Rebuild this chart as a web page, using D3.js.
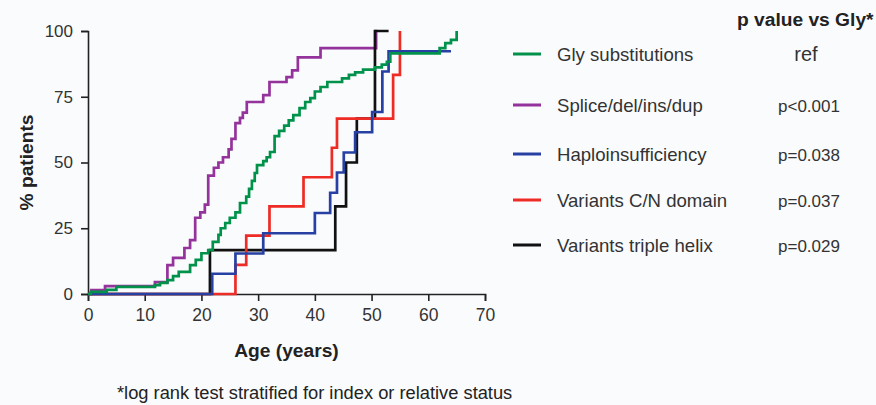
<!DOCTYPE html>
<html>
<head>
<meta charset="utf-8">
<script src="https://cdn.jsdelivr.net/npm/d3@7"></script>
<style>
  html, body { margin: 0; padding: 0; background: #fafbfd; }
  svg { display: block; font-family: "Liberation Sans", Arial, Helvetica, sans-serif; }
</style>
</head>
<body>
<svg id="chart" width="876" height="405"></svg>
<script>
// ---- data ----
const seriesNames = ["Gly substitutions", "Splice/del/ins/dup", "Haploinsufficiency", "Variants C/N domain", "Variants triple helix"];
const pValues = ["ref", "p<0.001", "p=0.038", "p=0.037", "p=0.029"];
const xTicks = [0, 10, 20, 30, 40, 50, 60, 70];
const yTicks = [0, 25, 50, 75, 100];

// step curves: [age, % patients]
const glyData = [[0,0],[0.5,0.8],[3.3,1.6],[5,2.7],[11.8,3.4],[12.7,4.2],[14,5.3],[15,6.8],[16,8.4],[18,11],[19,13],[20,15.5],[21.2,16.7],[22,19.8],[23,22.5],[23.4,25],[24.2,27],[25,29],[26,31],[26.8,34.6],[27.9,37],[28.4,40],[28.9,43],[29.4,46],[29.8,49],[30.9,50.5],[31.5,52],[32.1,54],[32.9,60],[33.7,62],[34.6,64],[35.4,66],[36.2,68],[37.3,70.7],[38.3,73],[39.2,74.5],[40,77],[41,78.7],[42.2,80.6],[44.8,82],[46,83.3],[47.1,84.3],[48.5,85.3],[50.6,86.2],[51.8,87.2],[52.7,88.3],[53.3,91.5],[62,93.5],[63,95.4],[64,96.6],[65,100],[65,100]];
const spliceData = [[0,0],[0.6,1.5],[3,3],[11.8,4.5],[14,11],[15,13.7],[17,17.5],[18,20.5],[18.9,29],[19.8,31],[20.6,34],[21.2,45],[22.2,48],[23,50],[23.8,52],[24.8,55],[25.3,59],[26,65],[26.8,67],[27.3,69],[28,73],[30.9,75.6],[32,80.6],[35,82.5],[36,85],[37,90],[41,93.5],[50.8,100],[51,100]];
const haploData = [[0,0],[21.9,7.7],[26,15.4],[30.9,23.1],[40,30.8],[42.7,38.5],[43.9,46.2],[45.1,53.8],[47.1,61.5],[50.1,69.2],[51.9,84.6],[53,92.3],[64,92.3]];
const cnData = [[0,0],[26,11.1],[27.9,22.2],[32,33.3],[38,44.4],[43,55.6],[43.9,66.7],[53.8,83.3],[55,100],[55,100]];
const helixData = [[0,0],[21.5,16.7],[43.6,33.3],[45.5,50],[47.4,66.7],[50.6,100],[53,100]];

const seriesColors = ["#00924a", "#94339b", "#2740a3", "#ee2b25", "#111111"];
const seriesData = [glyData, spliceData, haploData, cnData, helixData];
const drawOrder = [1, 4, 3, 2, 0];

// ---- layout ----
const svg = d3.select("#chart");
const x = d3.scaleLinear().domain([0, 70]).range([88, 485]);
const y = d3.scaleLinear().domain([0, 100]).range([294, 31]);
const axisColor = "#222";

// x axis
const gx = svg.append("g").attr("transform", `translate(0,${y(0)})`)
  .call(d3.axisBottom(x).tickValues(xTicks).tickSize(7).tickPadding(8));
gx.select(".domain").attr("stroke", axisColor).attr("stroke-width", 1.6);
gx.selectAll(".tick line").attr("stroke", axisColor).attr("stroke-width", 1.6);
gx.selectAll(".tick text").attr("fill", "#333").attr("font-size", 17.5)
  .attr("font-family", '"Liberation Sans", Arial, sans-serif');

// y axis
const gy = svg.append("g").attr("transform", `translate(${x(0)},0)`)
  .call(d3.axisLeft(y).tickValues(yTicks).tickSize(7).tickPadding(8));
gy.select(".domain").attr("stroke", axisColor).attr("stroke-width", 1.6);
gy.selectAll(".tick line").attr("stroke", axisColor).attr("stroke-width", 1.6);
gy.selectAll(".tick text").attr("fill", "#333").attr("font-size", 17)
  .attr("font-family", '"Liberation Sans", Arial, sans-serif');

// axis titles
svg.append("text").attr("x", (x(0) + x(70)) / 2).attr("y", 357)
  .attr("text-anchor", "middle").attr("font-weight", "bold").attr("font-size", 19.2)
  .attr("fill", "#222").text("Age (years)");
svg.append("text").attr("transform", `translate(33,${(y(0) + y(100)) / 2}) rotate(-90)`)
  .attr("text-anchor", "middle").attr("font-weight", "bold").attr("font-size", 19.2)
  .attr("fill", "#222").text("% patients");

// lines
const line = d3.line().x(d => x(d[0])).y(d => y(d[1])).curve(d3.curveStepAfter);
drawOrder.forEach(i => {
  svg.append("path").datum(seriesData[i])
    .attr("fill", "none").attr("stroke", seriesColors[i])
    .attr("stroke-width", 2.7).attr("stroke-linejoin", "miter")
    .attr("d", line);
});

// legend
const legendY = [54, 105, 154, 200, 245];
seriesNames.forEach((name, i) => {
  svg.append("line").attr("x1", 513).attr("x2", 541)
    .attr("y1", legendY[i]).attr("y2", legendY[i])
    .attr("stroke", seriesColors[i]).attr("stroke-width", 3);
  svg.append("text").attr("x", 557).attr("y", legendY[i] + 7)
    .attr("font-size", 18.6).attr("fill", "#333").text(name);
  svg.append("text").attr("x", i === 0 ? 806 : 809).attr("y", legendY[i] + 7)
    .attr("text-anchor", "middle").attr("font-size", i === 0 ? 20 : 17)
    .attr("fill", "#333").text(pValues[i]);
});
svg.append("text").attr("x", 737).attr("y", 26)
  .attr("font-weight", "bold").attr("font-size", 19.2).attr("fill", "#222").text("p value vs Gly*");

// footnote
svg.append("text").attr("x", 117).attr("y", 399)
  .attr("font-size", 18.3).attr("fill", "#222")
  .text("*log rank test stratified for index or relative status");
</script>
</body>
</html>
